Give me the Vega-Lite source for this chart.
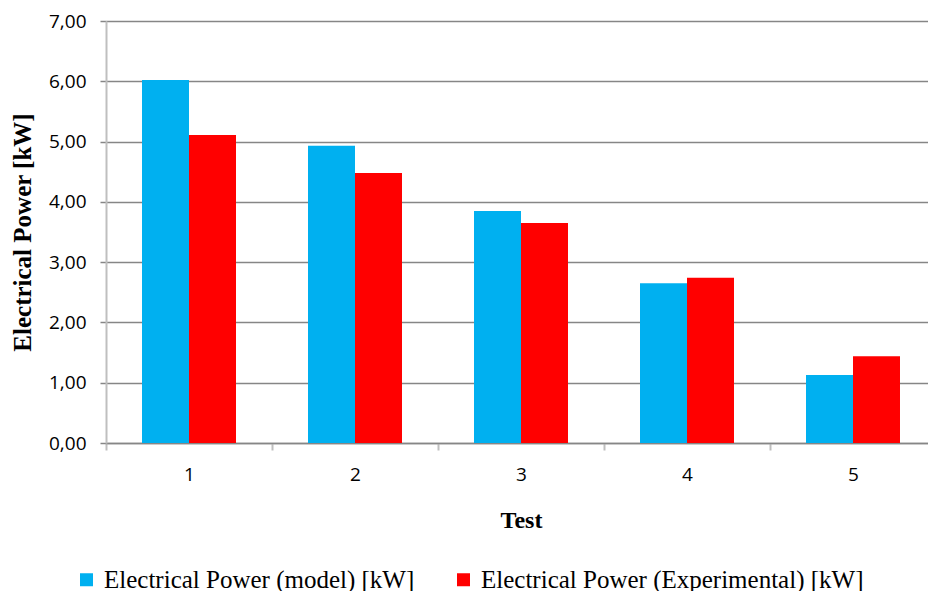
{
  "$schema": "https://vega.github.io/schema/vega-lite/v6.json",
  "autosize": "none",
  "padding": {"left": 106, "top": 21, "right": 0, "bottom": 148},
  "width": 830,
  "height": 422,
  "background": "white",
  "config": {"view": {"stroke": null}},
  "data": {
    "values": [
      {"Test": "1", "Series": "Electrical Power (model) [kW]", "Power": 6.02},
      {"Test": "1", "Series": "Electrical Power (Experimental) [kW]", "Power": 5.11},
      {"Test": "2", "Series": "Electrical Power (model) [kW]", "Power": 4.93},
      {"Test": "2", "Series": "Electrical Power (Experimental) [kW]", "Power": 4.48},
      {"Test": "3", "Series": "Electrical Power (model) [kW]", "Power": 3.85},
      {"Test": "3", "Series": "Electrical Power (Experimental) [kW]", "Power": 3.65},
      {"Test": "4", "Series": "Electrical Power (model) [kW]", "Power": 2.65},
      {"Test": "4", "Series": "Electrical Power (Experimental) [kW]", "Power": 2.74},
      {"Test": "5", "Series": "Electrical Power (model) [kW]", "Power": 1.13},
      {"Test": "5", "Series": "Electrical Power (Experimental) [kW]", "Power": 1.44}
    ]
  },
  "mark": {"type": "bar"},
  "encoding": {
    "x": {
      "field": "Test",
      "type": "ordinal",
      "scale": {"paddingInner": 0, "paddingOuter": 0},
      "axis": {
        "title": "Test",
        "titleFont": "Liberation Serif",
        "titleFontSize": 24,
        "titleFontWeight": "bold",
        "titleColor": "black",
        "titleX": 415,
        "titleY": 77,
        "titleBaseline": "middle",
        "titleAlign": "center",
        "labelAngle": 0,
        "labelFont": "Open Sans",
        "labelFontSize": 19,
        "labelColor": "black",
        "labelPadding": 15,
        "domainColor": "#868686",
        "domainWidth": 1.5,
        "tickBand": "extent",
        "tickColor": "#BFBFBF",
        "tickWidth": 2,
        "tickSize": 7
      }
    },
    "xOffset": {
      "field": "Series",
      "type": "nominal",
      "sort": ["Electrical Power (model) [kW]", "Electrical Power (Experimental) [kW]"],
      "scale": {"paddingInner": 0, "paddingOuter": 0.766}
    },
    "y": {
      "field": "Power",
      "type": "quantitative",
      "scale": {"domain": [0, 7], "nice": false},
      "axis": {
        "values": [0, 1, 2, 3, 4, 5, 6, 7],
        "labelExpr": "replace(format(datum.value, '.2f'), '.', ',')",
        "title": "Electrical Power [kW]",
        "titleFont": "Liberation Serif",
        "titleFontSize": 25,
        "titleFontWeight": "bold",
        "titleColor": "black",
        "titleAngle": -90,
        "titleX": -84,
        "titleY": 211,
        "titleAlign": "center",
        "titleBaseline": "middle",
        "labelFont": "Open Sans",
        "labelFontSize": 19,
        "labelColor": "black",
        "labelPadding": 14,
        "domainColor": "#BFBFBF",
        "domainWidth": 2,
        "tickColor": "#868686",
        "tickSize": 6,
        "tickWidth": 1.5,
        "grid": true,
        "gridColor": "#868686",
        "gridWidth": 1.5
      }
    },
    "color": {
      "field": "Series",
      "type": "nominal",
      "scale": {
        "domain": ["Electrical Power (model) [kW]", "Electrical Power (Experimental) [kW]"],
        "range": ["#00B0F0", "#FF0000"]
      },
      "legend": {
        "title": null,
        "orient": "none",
        "direction": "horizontal",
        "legendX": -32,
        "legendY": 546,
        "columns": 2,
        "columnPadding": 36,
        "symbolType": "square",
        "symbolSize": 169,
        "symbolStrokeWidth": 0,
        "labelFont": "Liberation Serif",
        "labelFontSize": 25,
        "labelColor": "black",
        "labelOffset": 5,
        "labelLimit": 600
      }
    }
  }
}
